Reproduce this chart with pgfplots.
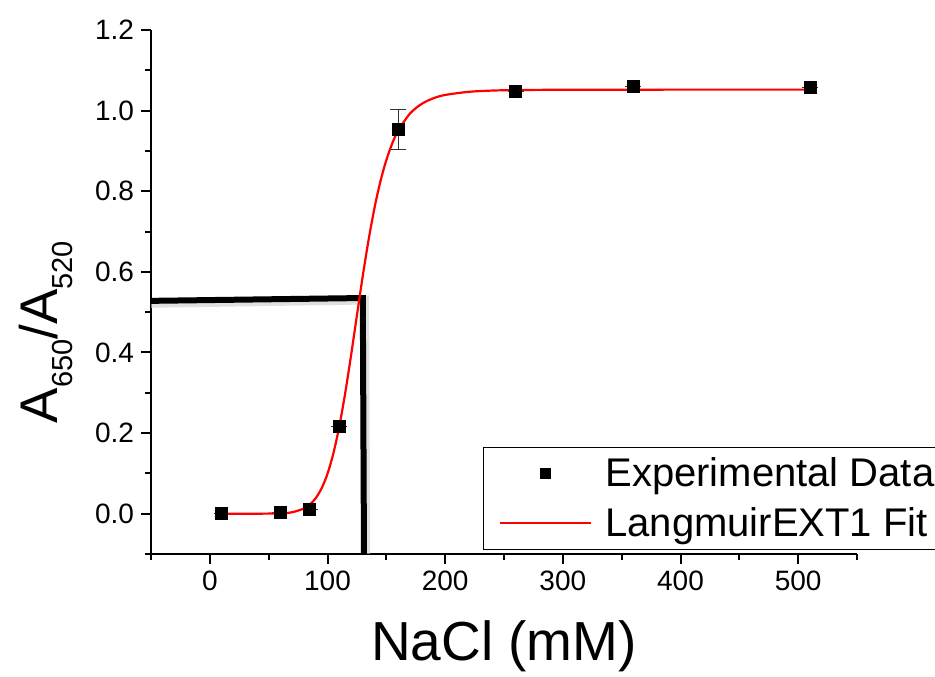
\documentclass[border=0pt]{standalone}
\usepackage{pgfplots}
\pgfplotsset{compat=1.18}
\usepackage{fontspec}
\setmainfont{Liberation Sans}
\usetikzlibrary{calc}
\newcommand{\sub}[1]{\raisebox{-7.5pt}{\fontsize{14.5}{17}\selectfont #1}}
\begin{document}
\begin{tikzpicture}
\begin{axis}[
  name=ax,
  scale only axis,
  width=353pt, height=262pt,
  xmin=-50, xmax=550, ymin=-0.1, ymax=1.2,
  axis x line*=bottom, axis y line*=left,
  axis line style={line width=1pt},
  tick align=outside,
  xtick={0,100,200,300,400,500},
  minor xtick={-50,50,150,250,350,450,550},
  ytick={0,0.2,0.4,0.6,0.8,1.0,1.2},
  minor ytick={-0.1,0.1,0.3,0.5,0.7,0.9,1.1},
  major tick length=5pt, minor tick length=3pt,
  every tick/.style={black, line width=1pt},
  /pgf/number format/assume math mode=true,
  yticklabel style={/pgf/number format/fixed, /pgf/number format/fixed zerofill, /pgf/number format/precision=1},
  tick label style={font=\fontsize{14}{16}\selectfont},
  xlabel={NaCl (mM)},
  ylabel={A\sub{650}/A\sub{520}},
  xlabel style={font=\fontsize{27.5}{32}\selectfont, yshift=-8pt},
  ylabel style={font=\fontsize{26.5}{30}\selectfont, xshift=-20pt, yshift=4pt},
  legend style={at={(axis cs:232,0.166)}, anchor=north west, draw=black, line width=0.5pt,
    font=\fontsize{20}{23}\selectfont, cells={anchor=west}, inner xsep=8pt, inner ysep=3pt,
    row sep=5pt},
]
% black guide lines (shadow + line)
\addplot[forget plot, draw=gray!40, line width=4.5pt, opacity=0.6] coordinates {(-50,0.522) (131.5,0.530) (132.5,-0.1)};
\addplot[forget plot, draw=black, line width=3pt] coordinates {(-50,0.528) (130,0.535) (131,-0.1)};
% experimental data with error bar
\addplot[forget plot, only marks, mark=square*, mark size=3pt, color=black,
  error bars/.cd, y dir=both, y explicit, error bar style={line width=0.5pt, black!80},
  error mark options={rotate=90, mark size=4pt, line width=0.5pt}]
  table[x=x, y=y, y error=e] {
  x y e
  10 0.000 0
  60 0.003 0
  85 0.010 0
  110 0.216 0
  160 0.953 0.05
  260 1.047 0
  360 1.060 0
  510 1.058 0
};
% fit curve
\addplot[forget plot, red, line width=1.1pt, smooth] coordinates {
(10,0)(40,0)(60,0.0008)(70,0.0036)(80,0.0128)(85,0.0227)(90,0.0385)(95,0.0631)(100,0.0991)(105,0.1497)(110,0.2164)(115,0.2984)(120,0.3924)(125,0.4921)(130,0.5904)(135,0.6807)(140,0.7595)(145,0.8249)(150,0.8773)(155,0.9184)(160,0.9499)(170,0.9924)(180,1.0166)(190,1.0306)(200,1.0388)(220,1.0466)(240,1.0497)(260,1.0509)(300,1.0517)(400,1.052)(510,1.052)
};
\addlegendimage{legend image code/.code={\path[draw=none,fill=none] (0cm,0cm) -- (1.6cm+5pt,0cm); \fill[black] (0.8cm-2.5pt,-2.5pt) rectangle (0.8cm+2.5pt,2.5pt);}}
\addlegendimage{legend image code/.code={\path[draw=none,fill=none] (0cm,0cm) -- (1.6cm+5pt,0cm); \draw[red, line width=1pt] (0cm,0cm) -- (1.6cm,0cm);}}
\legend{Experimental Data,LangmuirEXT1 Fit}
\end{axis}
\pgfresetboundingbox
\path ($(ax.south west)+(-75.5pt,-61.5pt)$) rectangle ($(ax.north east)+(39pt,15pt)$);
\end{tikzpicture}
\end{document}
